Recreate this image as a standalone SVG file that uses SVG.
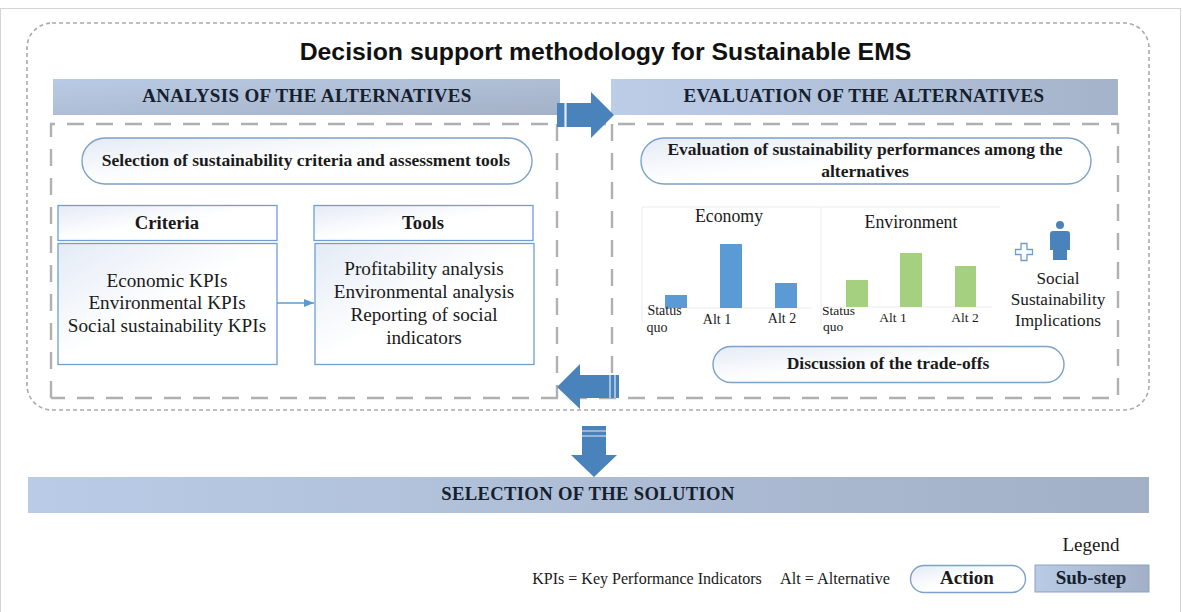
<svg xmlns="http://www.w3.org/2000/svg" width="1183" height="612" viewBox="0 0 1183 612">
<defs>
<linearGradient id="gL" x1="0" y1="0" x2="1" y2="1"><stop offset="0" stop-color="#b9cbe5"/><stop offset="1" stop-color="#a4b1c6"/></linearGradient>
<linearGradient id="gR" x1="0" y1="0" x2="1" y2="0"><stop offset="0" stop-color="#bccde8"/><stop offset="1" stop-color="#a5b3ca"/></linearGradient>
<linearGradient id="gB" x1="0" y1="0" x2="1" y2="0"><stop offset="0" stop-color="#b9cbe6"/><stop offset="1" stop-color="#a2b0c6"/></linearGradient>
<linearGradient id="gP" x1="0" y1="0" x2="1" y2="1"><stop offset="0" stop-color="#e4ebf6"/><stop offset="0.5" stop-color="#ffffff"/></linearGradient>
<marker id="ah" markerWidth="11" markerHeight="9" refX="10" refY="4" orient="auto" markerUnits="userSpaceOnUse"><path d="M0,0 L10,4 L0,8 Z" fill="#5b9bd5"/></marker>
</defs>
<style>
text{font-family:"Liberation Serif","Times New Roman",serif;fill:#1a1a1a;text-anchor:middle}
.b{font-weight:bold}
.h{font-weight:bold;font-size:19px;letter-spacing:.35px;fill:#15202e}
.t{font-size:19.200px}
.a{font-weight:bold;font-size:17.500px}
.l{font-weight:bold;font-size:19px}
.s{font-size:14px}
.pill{fill:url(#gP);stroke:#7ba3c9;stroke-width:1.4}
.box{fill:url(#gP);stroke:#6f9fd0;stroke-width:1.3}
.dash{fill:none;stroke:#b0b0b0;stroke-width:2.4;stroke-dasharray:17 12}
.arw{fill:#4a82bb}
.sep{stroke:#fff;stroke-width:1.2;opacity:.85}
.bl{fill:#5b9bd5}
.gr{fill:#a5d07f}
.ax{stroke:#ececec;stroke-width:1;fill:none}
</style>
<rect x="0.5" y="8.5" width="1180" height="620" fill="#fff" stroke="#d4d4d4" stroke-width="1"/>
<rect id="frame" x="27" y="23" width="1122" height="387" rx="25" fill="none" stroke="#aaa" stroke-width="1.6" stroke-dasharray="4 3"/>
<text id="title" x="605.5" y="60" class="b" style="font-family:'Liberation Sans',Arial,sans-serif;font-size:24.800px;fill:#111">Decision support methodology for Sustainable EMS</text>

<g id="analysis-header"><rect x="53" y="79" width="507" height="36" fill="url(#gL)"/><text x="307" y="102" class="h">ANALYSIS OF THE ALTERNATIVES</text></g>
<g id="evaluation-header"><rect x="611" y="79" width="507" height="36" fill="url(#gR)"/><text x="864" y="102" class="h">EVALUATION OF THE ALTERNATIVES</text></g>

<g id="panels">
<path class="dash" d="M51 398 V124 H1118 V398 H51"/>
<path class="dash" d="M557 124 V398"/>
<path class="dash" d="M612 124 V398"/>
</g>

<g id="selection-action"><rect class="pill" x="82" y="138" width="450" height="46" rx="23"/><text x="306" y="166" class="a">Selection of sustainability criteria and assessment tools</text></g>
<g id="evaluation-action"><rect class="pill" x="641" y="138" width="450" height="46" rx="23"/><text x="865" y="155" class="a">Evaluation of sustainability performances among the</text><text x="865" y="177" class="a">alternatives</text></g>

<g id="criteria-header"><rect class="box" x="58" y="205.500" width="219" height="35"/><text x="167" y="229" class="l" style="font-size:18.700px">Criteria</text></g>
<g id="criteria-body"><rect class="box" x="58" y="243.500" width="219" height="121"/>
<text x="167" y="287" class="t">Economic KPIs</text><text x="167" y="309" class="t">Environmental KPIs</text><text x="167" y="332" class="t">Social sustainability KPIs</text></g>
<g id="tools-header"><rect class="box" x="314" y="205.500" width="219" height="35"/><text x="423" y="229" class="l" style="font-size:18.700px">Tools</text></g>
<g id="tools-body"><rect class="box" x="315" y="243.500" width="219" height="121"/>
<text x="424" y="275" class="t">Profitability analysis</text><text x="424" y="298" class="t">Environmental analysis</text><text x="424" y="321" class="t">Reporting of social</text><text x="424" y="344" class="t">indicators</text></g>

<g id="connectors">
<path d="M277 303 H314" stroke="#5b9bd5" stroke-width="1.5" fill="none" marker-end="url(#ah)"/>
<path class="arw" d="M557 103 H591 V92 L614 115 L591 138 V127 H557 Z"/>
<path class="sep" d="M565 103 V127 M566 103 V127"/>
<path class="arw" d="M557 387 L580 364 V375 H619 V398 H580 V409 Z"/>
<path class="sep" d="M610 375 V398 M615 375 V398"/>
<path class="arw" d="M582 426 H606 V455 H617 L594 477 L571 455 H582 Z"/>
<path class="sep" d="M582 431 H606 M582 436 H606"/>
</g>

<g id="economy-chart">
<path class="ax" d="M642 207 H820 M642 207 V325 M645 308 H812"/>
<rect class="bl" x="665" y="295" width="22" height="13"/><rect class="bl" x="720" y="244" width="22" height="64"/><rect class="bl" x="775" y="283" width="22" height="25"/>
<text x="729" y="222" style="font-size:17.800px">Economy</text>
<text x="664.500" y="315" class="s">Status</text><text x="657" y="332" class="s">quo</text>
<text x="717" y="324" class="s">Alt 1</text><text x="782" y="323" class="s">Alt 2</text>
</g>
<g id="environment-chart">
<path class="ax" d="M821 207 H1000 M821 207 V325 M823 307 H992"/>
<rect class="gr" x="846" y="280" width="22" height="27"/><rect class="gr" x="900" y="253" width="22" height="54"/><rect class="gr" x="955" y="266" width="21" height="41"/>
<text x="911" y="228" style="font-size:17.800px">Environment</text>
<text x="838.500" y="315" style="font-size:13.500px">Status</text><text x="833" y="331" style="font-size:13.500px">quo</text>
<text x="893" y="322" style="font-size:13.500px">Alt 1</text><text x="965" y="322" style="font-size:13.500px">Alt 2</text>
</g>
<g id="social-implications">
<path d="M1021 243.500 h6 v6 h5.500 v5 h-5.500 v6 h-6 v-6 h-5.500 v-5 h5.500 z" fill="#fff" stroke="#6f9fd0" stroke-width="1.3"/>
<circle cx="1060" cy="225" r="4" fill="#4a82bb"/>
<path d="M1053 231 H1067 Q1070 231 1070 234 V250 H1067 V260 H1053 V250 H1050 V234 Q1050 231 1053 231 Z" fill="#4a82bb"/>
<text x="1058" y="284" style="font-size:17.200px">Social</text><text x="1058" y="305" style="font-size:17.200px">Sustainability</text><text x="1058" y="326" style="font-size:17.200px">Implications</text>
</g>
<g id="tradeoffs-action"><rect class="pill" x="713" y="346.500" width="351" height="36" rx="18"/><text x="888" y="369" class="a">Discussion of the trade-offs</text></g>

<g id="solution"><rect x="28" y="477" width="1121" height="36" fill="url(#gB)"/><text x="588" y="500" class="h" style="font-size:18.600px">SELECTION OF THE SOLUTION</text></g>

<g id="legend">
<text x="1091" y="551" style="font-size:19px">Legend</text>
<text x="647" y="584" style="font-size:16px">KPIs = Key Performance Indicators</text>
<text x="835" y="584" style="font-size:16.200px">Alt = Alternative</text>
<rect class="pill" x="910.500" y="565.500" width="115" height="27" rx="13.500"/><text x="967" y="584" class="l">Action</text>
<rect x="1035" y="565" width="114" height="27" fill="url(#gB)" stroke="#8fa2bd" stroke-width="1"/><text x="1091" y="584" class="l" style="fill:#15202e">Sub-step</text>
</g>
</svg>
